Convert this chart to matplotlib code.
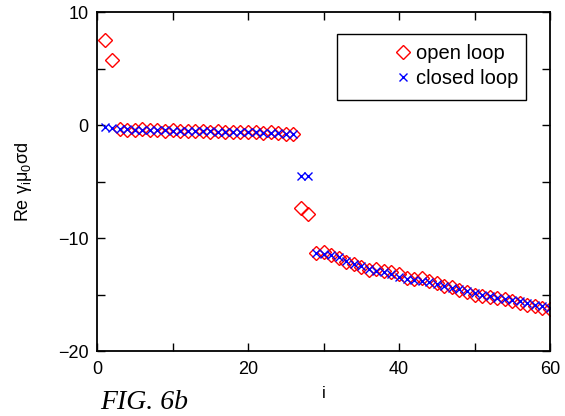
import numpy as np
import matplotlib.pyplot as plt
from matplotlib.ticker import MultipleLocator
from matplotlib.patches import Rectangle

plt.rcParams['font.family'] = ['Liberation Sans', 'DejaVu Sans']
plt.rcParams['mathtext.fontset'] = 'custom'
plt.rcParams['mathtext.rm'] = 'Liberation Sans'
plt.rcParams['mathtext.it'] = 'Liberation Sans'

idx = np.arange(1, 61)

open_loop = [7.5, 5.8,
             -0.35, -0.4, -0.4, -0.35, -0.45, -0.4, -0.5, -0.45, -0.5, -0.5, -0.55, -0.5,
             -0.6, -0.55, -0.6, -0.6, -0.65, -0.6, -0.65, -0.7, -0.65, -0.7, -0.75, -0.8,
             -7.3, -7.9,
             -11.3, -11.2, -11.5, -11.8, -12.1, -12.3, -12.6, -12.8, -12.7, -12.9, -13.0,
             -13.2, -13.5, -13.6, -13.5, -13.8, -14.0, -14.2, -14.3, -14.6, -14.8, -15.0,
             -15.1, -15.2, -15.3, -15.4, -15.6, -15.7, -15.9, -16.0, -16.2, -16.3]

closed_loop = [-0.2, -0.3,
               -0.35, -0.35, -0.4, -0.4, -0.4, -0.45, -0.45, -0.5, -0.5, -0.5, -0.55, -0.55,
               -0.55, -0.6, -0.6, -0.6, -0.65, -0.65, -0.65, -0.7, -0.7, -0.7, -0.75, -0.75,
               -4.5, -4.5,
               -11.3, -11.4, -11.5, -11.7, -12.0, -12.3, -12.5, -12.7, -12.9, -13.0, -13.2,
               -13.4, -13.6, -13.7, -13.8, -13.9, -14.1, -14.2, -14.4, -14.5, -14.7, -14.9,
               -15.0, -15.1, -15.3, -15.4, -15.5, -15.6, -15.7, -15.9, -16.0, -16.2]

fig = plt.figure(figsize=(5.65, 4.16), dpi=100)
ax = fig.add_axes([0.1717, 0.156, 0.8018, 0.815])

ax.plot(idx, open_loop, linestyle='none', marker='D', markersize=6.8,
        markerfacecolor='none', markeredgecolor='red', markeredgewidth=1.0,
        label='open loop')
ax.plot(idx, closed_loop, linestyle='none', marker='x', markersize=5.8,
        color='blue', markeredgewidth=1.0, label='closed loop')

ax.set_xlim(0, 60)
ax.set_ylim(-20, 10)
ax.xaxis.set_major_locator(MultipleLocator(20))
ax.xaxis.set_minor_locator(MultipleLocator(10))
ax.yaxis.set_major_locator(MultipleLocator(10))
ax.yaxis.set_minor_locator(MultipleLocator(5))
ax.tick_params(which='both', direction='in', top=True, right=True, labelsize=13,
               length=6, width=1)
ax.tick_params(axis='x', pad=7)
ax.tick_params(axis='y', pad=6)
for s in ax.spines.values():
    s.set_linewidth(1.3)

ax.set_xlabel('i', fontsize=12, labelpad=6)
ax.set_ylabel(r'Re $\gamma_i\mu_0\sigma$d', fontsize=13, labelpad=17)

# key box drawn by hand, entries right-aligned inside it
ax.add_patch(Rectangle((0.530, 0.740), 0.417, 0.195, transform=ax.transAxes,
                       fill=False, edgecolor='black', linewidth=1.0, zorder=5))
leg = ax.legend(loc='upper right', bbox_to_anchor=(0.93, 0.905), fontsize=14.5,
                handlelength=0.5, handletextpad=0.4, borderpad=0,
                labelspacing=0.3, frameon=False, borderaxespad=0,
                markerscale=1.1)

fig.text(0.178, 0.018, 'FIG. 6b', family='Liberation Serif', style='italic',
         fontsize=20)

fig.savefig('out.png', dpi=100)
